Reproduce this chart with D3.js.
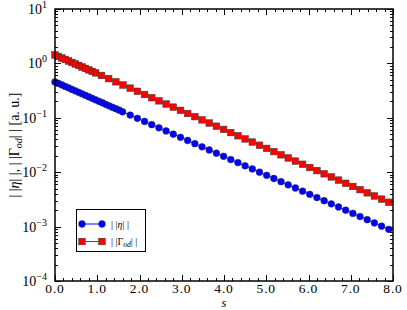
<!DOCTYPE html>
<html><head><meta charset="utf-8">
<script src="https://cdn.jsdelivr.net/npm/d3@7"></script>
<style>body{margin:0;background:#fff}svg{display:block}</style>
</head><body>
<svg id="c" width="407" height="310" font-family="'Liberation Serif', 'DejaVu Serif', serif"></svg>
<script>
// ---- data ----
const etaS = [0,0.08,0.16,0.24,0.32,0.40,0.48,0.56,0.64,0.72,0.80,0.88,0.96,1.04,1.12,1.20,1.28,1.36,1.44,1.52,1.60,
  1.78,1.95,2.12,2.29,2.46,2.63,2.80,2.97,3.14,3.31,3.48,3.65,3.82,3.99,4.16,4.33,4.50,4.67,4.84,5.01,5.18,5.35,5.52,5.69,5.86,6.03,6.20,6.37,6.54,6.71,6.88,7.05,7.22,7.39,7.56,7.73,7.90];
const etaV = [0.457,0.429,0.403,0.378,0.355,0.333,0.313,0.294,0.276,0.259,0.243,0.228,0.214,0.201,0.189,0.177,0.166,0.156,0.147,0.138,0.129,
  0.1121,0.0980,0.0857,0.0749,0.0655,0.0573,0.0501,0.0438,0.0383,0.0335,0.0293,0.0256,0.0224,0.0196,0.0171,0.0150,0.0131,0.0115,0.0100,0.00876,0.00766,0.00670,0.00586,0.00512,0.00448,0.00392,0.00342,0.00299,0.00262,0.00229,0.00200,0.00175,0.00153,0.00134,0.00117,0.00102,0.00089];
const gamS = [0,0.08,0.16,0.24,0.32,0.40,0.48,0.56,0.64,0.72,0.80,0.88,0.96,
  1.10,1.27,1.44,1.61,1.78,1.95,2.12,2.29,2.46,2.63,2.80,2.97,3.14,3.31,3.48,3.65,3.82,3.99,4.16,4.33,4.50,4.67,4.84,5.01,5.18,5.35,5.52,5.69,5.86,6.03,6.20,6.37,6.54,6.71,6.88,7.05,7.22,7.39,7.56,7.73,7.90];
const gamV = [1.429,1.342,1.259,1.183,1.109,1.042,0.978,0.918,0.861,0.809,0.760,0.713,0.670,
  0.600,0.525,0.459,0.401,0.351,0.307,0.268,0.234,0.205,0.179,0.157,0.137,0.120,0.105,0.0916,0.0801,0.0700,0.0612,0.0535,0.0468,0.0409,0.0358,0.0313,0.0274,0.0239,0.0209,0.0183,0.0160,0.0140,0.0122,0.0107,0.00935,0.00818,0.00715,0.00625,0.00547,0.00478,0.00418,0.00366,0.00320,0.00280];
const xTicks = [0,1,2,3,4,5,6,7,8];
const xTickLabels = ["0.0","1.0","2.0","3.0","4.0","5.0","6.0","7.0","8.0"];
const yTickExp = [1,0,-1,-2,-3,-4];

// ---- layout ----
const FF = "'Liberation Serif', 'DejaVu Serif', serif";
const svg = d3.select("#c");
const L=55, R=393, T=9, B=281;
const x = d3.scaleLinear().domain([0,8]).range([L,R]);
const y = d3.scaleLog().domain([1e-4,10]).range([B,T]);

// series
const etaData = etaS.map((s,i)=>[s,etaV[i]]);
const gamData = gamS.map((s,i)=>[s,gamV[i]]);
const line = d3.line().x(d=>x(d[0])).y(d=>y(d[1]));
const g = svg.append("g");
g.append("path").attr("d",line(etaData)).attr("fill","none").attr("stroke","#0000ff").attr("stroke-width",1);
g.append("path").attr("d",line(gamData)).attr("fill","none").attr("stroke","#ff0000").attr("stroke-width",1);
g.selectAll(".c").data(etaData).enter().append("circle")
  .attr("cx",d=>x(d[0])).attr("cy",d=>y(d[1])).attr("r",3.4)
  .attr("fill","#0000ff").attr("stroke","#333").attr("stroke-width",0.5);
const sq=6.6;
g.selectAll(".s").data(gamData).enter().append("rect")
  .attr("x",d=>x(d[0])-sq/2).attr("y",d=>y(d[1])-sq/2).attr("width",sq).attr("height",sq)
  .attr("fill","#ff0000").attr("stroke","#333").attr("stroke-width",0.5);

// ticks (inside, all four sides)
const tk = svg.append("g").attr("stroke","#000").attr("stroke-width",1);
const xMinor = d3.range(0,8.0001,0.2);
xMinor.forEach(v=>{
  const isMaj = Math.abs(v-Math.round(v))<1e-6;
  const len = isMaj?6:3;
  const px = Math.round(x(v))+0.5;
  tk.append("line").attr("x1",px).attr("x2",px).attr("y1",B).attr("y2",B-len);
  tk.append("line").attr("x1",px).attr("x2",px).attr("y1",T).attr("y2",T+len);
});
for(let e=-4;e<=1;e++){
  for(let m=1;m<=9;m++){
    const v = m*Math.pow(10,e);
    if(v>10.0001) break;
    const len = m===1?6:3;
    const py = Math.round(y(v))+0.5;
    tk.append("line").attr("x1",L).attr("x2",L+len).attr("y1",py).attr("y2",py);
    tk.append("line").attr("x1",R).attr("x2",R-len).attr("y1",py).attr("y2",py);
  }
}
// frame
svg.append("rect").attr("x",L).attr("y",T).attr("width",R-L).attr("height",B-T)
  .attr("fill","none").attr("stroke","#000").attr("stroke-width",1.5);

// x tick labels
svg.selectAll(".xl").data(xTicks).enter().append("text")
  .attr("font-family",FF)
  .attr("x",d=>x(d)).attr("y",293).attr("text-anchor","middle")
  .attr("font-size",13.5).attr("letter-spacing",0.8).text((d,i)=>xTickLabels[i]);
// y tick labels
yTickExp.forEach(e=>{
  const t = svg.append("text").attr("font-family",FF).attr("x",47).attr("y",y(Math.pow(10,e))+5).attr("text-anchor","end").attr("font-size",14);
  t.append("tspan").text("10");
  t.append("tspan").attr("dy",-6).attr("font-size",10).text(e<0?"\u2212"+(-e):String(e));
});
// axis labels
svg.append("text").attr("font-family",FF).attr("x",(L+R)/2).attr("y",307.3).attr("text-anchor","middle")
  .attr("font-size",12.5).attr("font-style","italic").text("s");
const yl = svg.append("text").attr("font-family",FF).attr("transform",`translate(19,${145}) rotate(-90)`)
  .attr("text-anchor","middle").attr("font-size",14);
yl.append("tspan").text("| |");
yl.append("tspan").attr("font-style","italic").text("\u03b7");
yl.append("tspan").text("| |, | |\u0393");
yl.append("tspan").attr("font-style","italic").attr("font-size",10).attr("dy",3).text("od");
yl.append("tspan").attr("dy",-3).text("| | [a. u.]");

// legend
const lg = svg.append("g");
lg.append("rect").attr("x",76.5).attr("y",209.5).attr("width",69).attr("height",42)
  .attr("fill","#fff").attr("stroke","#000").attr("stroke-width",1);
const lx1=82, lx2=102;
const ly1=224, ly2=241.5;
lg.append("line").attr("x1",lx1).attr("x2",lx2).attr("y1",ly1).attr("y2",ly1).attr("stroke","#0000ff");
[lx1,lx2].forEach(px=>lg.append("circle").attr("cx",px).attr("cy",ly1).attr("r",3.4).attr("fill","#0000ff").attr("stroke","#333").attr("stroke-width",0.5));
lg.append("line").attr("x1",lx1).attr("x2",lx2).attr("y1",ly2).attr("y2",ly2).attr("stroke","#ff0000");
[lx1,lx2].forEach(px=>lg.append("rect").attr("x",px-sq/2).attr("y",ly2-sq/2).attr("width",sq).attr("height",sq).attr("fill","#ff0000").attr("stroke","#333").attr("stroke-width",0.5));
const t1 = lg.append("text").attr("font-family",FF).attr("x",111).attr("y",ly1+3.5).attr("font-size",10);
t1.append("tspan").text("| |");
t1.append("tspan").attr("font-style","italic").text("\u03b7");
t1.append("tspan").text("| |");
const t2 = lg.append("text").attr("font-family",FF).attr("x",111).attr("y",ly2+3.5).attr("font-size",10);
t2.append("tspan").text("| |\u0393");
t2.append("tspan").attr("font-style","italic").attr("font-size",7.5).attr("dy",2).text("od");
t2.append("tspan").attr("dy",-2).text("| |");
</script>
</body></html>
